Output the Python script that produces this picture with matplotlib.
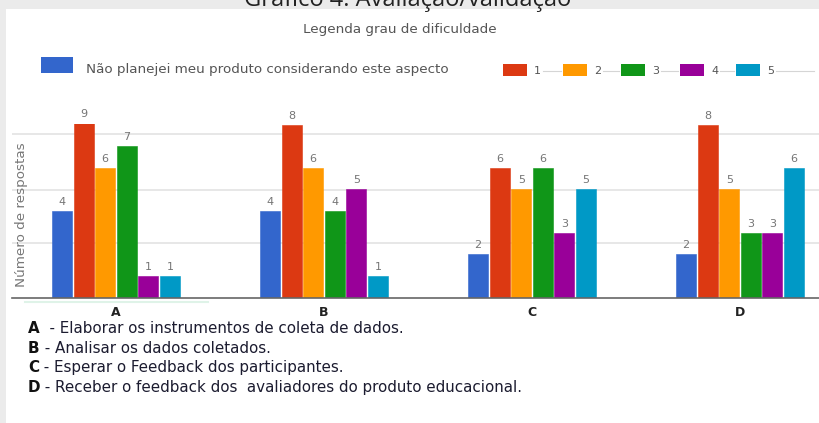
import matplotlib.pyplot as plt
import numpy as np
from matplotlib.patches import Rectangle
from matplotlib.lines import Line2D

categories = ["A", "B", "C", "D"]
series_labels = ["Não planejei meu produto considerando este aspecto", "1", "2", "3", "4", "5"]
nao_planejei = [4, 4, 2, 2]
grau_1 = [9, 8, 6, 8]
grau_2 = [6, 6, 5, 5]
grau_3 = [7, 4, 6, 3]
grau_4 = [1, 5, 3, 3]
grau_5 = [1, 1, 5, 6]
descriptions = [
    ("A", "  - Elaborar os instrumentos de coleta de dados."),
    ("B", " - Analisar os dados coletados."),
    ("C", " - Esperar o Feedback dos participantes."),
    ("D", " - Receber o feedback dos  avaliadores do produto educacional."),
]

series = [nao_planejei, grau_1, grau_2, grau_3, grau_4, grau_5]
colors = ["#3366cc", "#dc3912", "#ff9900", "#109618", "#990099", "#0099c6"]

W, H = 820, 423
fig = plt.figure(figsize=(W / 100, H / 100), dpi=100, facecolor="#ebebeb")


def fx(px):
    return px / W


def fy(py):
    return 1 - py / H


# white panel, behind everything
fig.patches.append(Rectangle((fx(6), 0), 1, fy(9), transform=fig.transFigure,
                             facecolor="white", edgecolor="none", zorder=-5))

# title (mostly cut off at the top, as in the source)
fig.text(fx(408), fy(5.5), "Gráfico 4: Avaliação/validação", ha="center", va="baseline",
         fontsize=17, color="#222222", family="Open Sans")

# axes
ymax = 8.05
ax = fig.add_axes([fx(12), fy(297.5), fx(808), fy(123.6) - fy(297.5)])
ax.set_facecolor("none")
pitch = 21.6 / 208
bw = 20 / 208
x = np.arange(len(categories))
for i, (vals, col) in enumerate(zip(series, colors)):
    xs = x + (i - 2.5) * pitch
    ax.bar(xs, vals, width=bw, color=col, edgecolor=col, linewidth=0.4, zorder=3)
    for xi, v in zip(xs, vals):
        ax.annotate(str(v), (xi, min(v, ymax)), xytext=(0, 3), textcoords="offset points",
                    ha="center", va="bottom", fontsize=8, color="#757575",
                    annotation_clip=False)

ax.set_xlim(-0.5, -0.5 + 808 / 208)
ax.set_ylim(0, ymax)
ax.set_yticks([2.54, 4.98, 7.57])
ax.set_yticklabels([])
ax.tick_params(axis="y", length=0)
ax.grid(axis="y", color="#e3e3e3", linewidth=1.2, zorder=0)
for s in ["top", "right", "left"]:
    ax.spines[s].set_visible(False)
ax.spines["bottom"].set_color("#666666")
ax.spines["bottom"].set_linewidth(1.2)
ax.spines["bottom"].set_zorder(4)
ax.set_xticks(x)
ax.set_xticklabels(categories, fontsize=9, fontweight="bold", color="#222222")
ax.tick_params(axis="x", length=0, pad=6)

# pale highlight under group A
fig.add_artist(Line2D([fx(25), fx(208)], [fy(301.5), fy(301.5)], color="#dff3e8", lw=1.5))

fig.text(fx(22), fy(215), "Número de respostas", rotation=90, ha="center", va="center",
         fontsize=9.7, color="#777777")

# legend
fig.text(fx(400), fy(30), "Legenda grau de dificuldade", ha="center", va="center",
         fontsize=9.7, color="#555555")
fig.patches.append(Rectangle((fx(41), fy(73)), fx(32), fy(57) - fy(73),
                             transform=fig.transFigure, facecolor=colors[0], edgecolor="none"))
fig.text(fx(86), fy(70), series_labels[0], ha="left", va="center", fontsize=9.7, color="#555555")
leg_x = [503, 563, 621, 680, 736]
for lx, lab, col, nxt in zip(leg_x, series_labels[1:], colors[1:], leg_x[1:] + [816]):
    fig.patches.append(Rectangle((fx(lx), fy(76)), fx(24), fy(64) - fy(76),
                                 transform=fig.transFigure, facecolor=col, edgecolor="none"))
    fig.text(fx(lx + 31), fy(70.5), lab, ha="left", va="center", fontsize=8, color="#555555")
    fig.add_artist(Line2D([fx(lx + 40), fx(nxt - 2)], [fy(71), fy(71)],
                          color="#d5d5d5", lw=0.8))

# descriptions
for k, (letter, rest) in enumerate(descriptions):
    t = fig.text(fx(28), fy(333 + k * 19.7), letter, ha="left", va="baseline",
                 fontsize=10.9, fontweight="bold", color="#111111", family="DejaVu Sans")
    ax.annotate(rest, xy=(1, 0), xycoords=t, ha="left", va="bottom",
                fontsize=10.9, color="#1c1c30", family="DejaVu Sans", annotation_clip=False)

fig.savefig("out.png", dpi=100, facecolor=fig.get_facecolor())
